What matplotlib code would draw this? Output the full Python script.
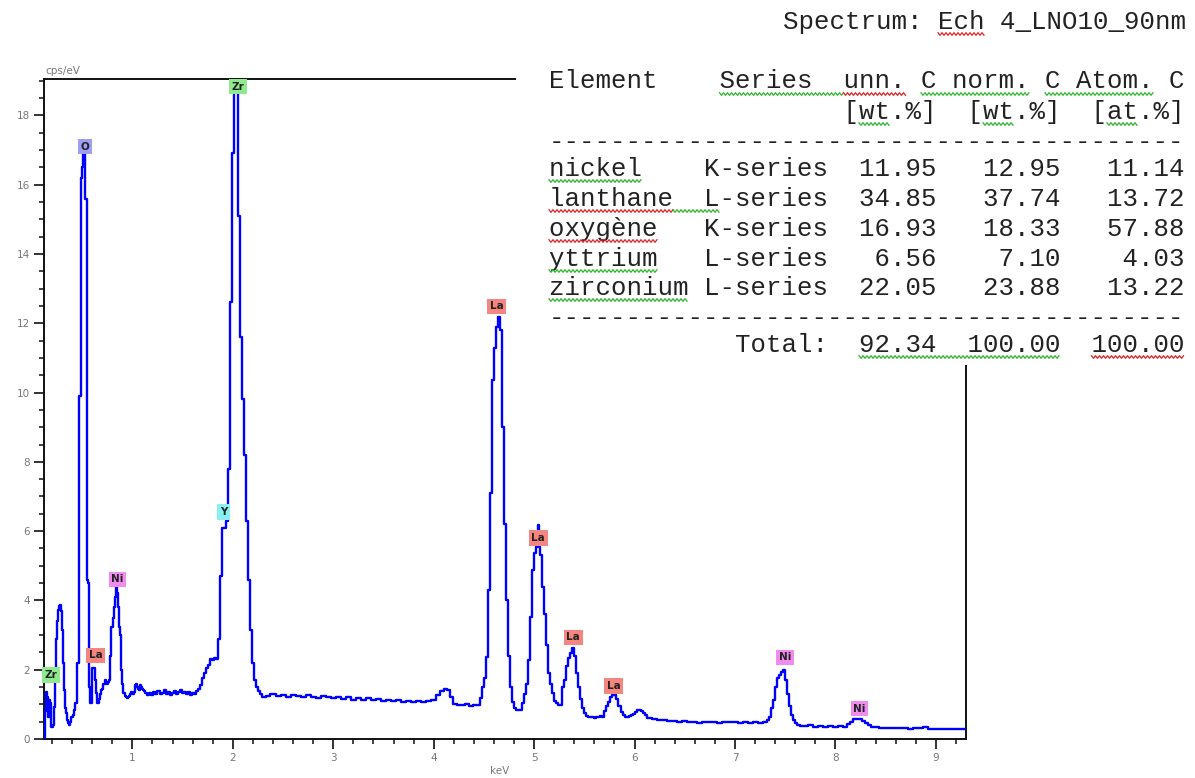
import numpy as np
import matplotlib
matplotlib.use("Agg")
import matplotlib.pyplot as plt
from matplotlib.patches import Rectangle
from matplotlib.lines import Line2D
from matplotlib.ticker import MultipleLocator

# ---------------- spectrum (energy in keV, intensity in cps/eV) ----------------
energy_low = [
    0.125, 0.135, 0.145, 0.155, 0.165, 0.175, 0.185, 0.195, 0.205, 0.215,
    0.225, 0.235, 0.245, 0.255, 0.265, 0.275, 0.285, 0.295, 0.305, 0.315,
    0.325, 0.335, 0.345, 0.355, 0.365, 0.375, 0.385, 0.395, 0.405, 0.415,
    0.425, 0.435, 0.445, 0.455, 0.465, 0.475, 0.485, 0.495, 0.505, 0.515,
    0.525, 0.535, 0.545, 0.555, 0.565, 0.575, 0.585, 0.595, 0.605, 0.615,
    0.625, 0.635, 0.645, 0.655, 0.665, 0.675, 0.685, 0.695, 0.705, 0.715,
    0.725, 0.735, 0.745, 0.755, 0.765, 0.775, 0.785, 0.795, 0.805, 0.815,
    0.825, 0.835, 0.845, 0.855, 0.865, 0.875, 0.885, 0.895, 0.905, 0.915,
    0.925, 0.935, 0.945, 0.955, 0.965, 0.975, 0.985, 0.995, 1.005, 1.015,
    1.025, 1.035, 1.045, 1.055, 1.065, 1.075, 1.085, 1.095, 1.105, 1.115]
counts_low = [
    0.05, 0.80, 1.36, 1.20, 0.64, 1.12, 1.05, 0.36, 0.36, 0.40,
    0.93, 1.90, 2.90, 3.40, 3.72, 3.85, 3.87, 3.70, 3.14, 2.20,
    1.41, 0.90, 0.74, 0.55, 0.45, 0.40, 0.50, 0.64, 0.64, 0.70,
    0.85, 1.03, 1.03, 2.18, 2.20, 9.90, 9.90, 16.2, 16.5, 17.1,
    17.1, 15.6, 15.6, 4.60, 4.50, 1.50, 1.03, 1.03, 2.04, 2.04,
    2.04, 1.70, 1.32, 1.03, 1.03, 1.15, 1.30, 1.41, 1.45, 1.60,
    1.60, 1.70, 1.60, 1.60, 1.65, 1.70, 2.40, 3.24, 3.24, 3.50,
    3.82, 4.10, 4.39, 4.20, 3.82, 3.24, 3.00, 1.99, 1.60, 1.32,
    1.32, 1.25, 1.20, 1.18, 1.20, 1.25, 1.30, 1.35, 1.30, 1.30,
    1.35, 1.55, 1.60, 1.50, 1.45, 1.42, 1.55, 1.50, 1.45, 1.40]

energy_mid = [
    1.12, 1.14, 1.16, 1.18, 1.20, 1.22, 1.24, 1.26, 1.28, 1.30,
    1.32, 1.34, 1.36, 1.38, 1.40, 1.42, 1.44, 1.46, 1.48, 1.50,
    1.52, 1.54, 1.56, 1.58, 1.60, 1.62, 1.64, 1.66, 1.68, 1.70,
    1.72, 1.74, 1.76, 1.78, 1.80, 1.82, 1.84, 1.86, 1.88, 1.90,
    1.92, 1.94, 1.96, 1.98, 2.00, 2.02, 2.04, 2.06, 2.08, 2.10,
    2.12, 2.14, 2.16, 2.18, 2.20, 2.22, 2.24, 2.26, 2.28, 2.30, 2.32]
counts_mid = [
    1.38, 1.32, 1.28, 1.33, 1.27, 1.35, 1.30, 1.38, 1.29, 1.34,
    1.40, 1.30, 1.36, 1.28, 1.33, 1.38, 1.30, 1.35, 1.40, 1.33,
    1.37, 1.30, 1.36, 1.27, 1.34, 1.30, 1.38, 1.45, 1.55, 1.75,
    1.90, 2.05, 2.15, 2.30, 2.27, 2.35, 2.30, 2.90, 4.70, 6.10,
    6.10, 6.30, 7.80, 12.6, 16.9, 18.7, 18.8, 15.1, 11.6, 9.80,
    8.20, 6.30, 4.60, 3.15, 2.20, 1.70, 1.50, 1.38, 1.30, 1.22, 1.20]

energy_bkg = [
    2.35, 2.40, 2.45, 2.50, 2.55, 2.60, 2.65, 2.70, 2.75, 2.80,
    2.85, 2.90, 2.95, 3.00, 3.05, 3.10, 3.15, 3.20, 3.25, 3.30,
    3.35, 3.40, 3.45, 3.50, 3.55, 3.60, 3.65, 3.70, 3.75, 3.80,
    3.85, 3.90, 3.95, 4.00, 4.04, 4.08, 4.12, 4.15, 4.18, 4.21,
    4.25, 4.29, 4.33, 4.37, 4.41, 4.45]
counts_bkg = [
    1.25, 1.30, 1.24, 1.28, 1.22, 1.27, 1.25, 1.20, 1.26, 1.22,
    1.18, 1.24, 1.20, 1.17, 1.22, 1.16, 1.20, 1.14, 1.18, 1.13,
    1.17, 1.12, 1.15, 1.10, 1.14, 1.09, 1.12, 1.08, 1.11, 1.07,
    1.10, 1.06, 1.10, 1.12, 1.27, 1.38, 1.45, 1.42, 1.20, 1.02,
    0.98, 0.97, 1.00, 0.96, 0.98, 0.97]

energy_la = [
    4.47, 4.49, 4.51, 4.53, 4.55, 4.57, 4.59, 4.61, 4.63, 4.65,
    4.67, 4.69, 4.71, 4.73, 4.75, 4.77, 4.79, 4.81, 4.83, 4.85,
    4.87, 4.89, 4.91, 4.93, 4.95, 4.97, 4.99, 5.01, 5.025, 5.035,
    5.045, 5.055, 5.07, 5.09, 5.11, 5.13, 5.15, 5.17, 5.19, 5.21,
    5.23, 5.25, 5.27, 5.29, 5.31, 5.33, 5.35, 5.37, 5.39, 5.41,
    5.43, 5.45, 5.47, 5.49, 5.51, 5.53, 5.55, 5.57, 5.59, 5.61,
    5.63, 5.65, 5.67, 5.69, 5.71, 5.73, 5.75, 5.77, 5.79, 5.81,
    5.83, 5.85, 5.87, 5.89, 5.91, 5.93, 5.95, 5.97, 5.99, 6.01,
    6.03, 6.05, 6.07, 6.09, 6.11, 6.13, 6.15]
counts_la = [
    1.17, 1.50, 1.75, 2.37, 4.30, 7.10, 10.35, 11.3, 11.9, 12.18,
    11.8, 9.00, 6.20, 4.00, 2.40, 1.50, 1.07, 0.90, 0.83, 0.83,
    0.85, 1.03, 1.30, 1.60, 2.28, 3.53, 4.88, 5.36, 5.55, 5.60,
    6.17, 5.55, 5.30, 4.40, 3.60, 2.70, 1.90, 1.60, 1.32, 1.10,
    1.03, 0.98, 0.98, 1.50, 1.70, 2.10, 2.35, 2.47, 2.62, 2.40,
    1.90, 1.50, 1.15, 0.90, 0.75, 0.66, 0.64, 0.63, 0.64, 0.62,
    0.64, 0.63, 0.66, 0.64, 0.80, 0.95, 1.08, 1.20, 1.27, 1.27,
    1.15, 0.95, 0.79, 0.70, 0.64, 0.63, 0.67, 0.70, 0.72, 0.79,
    0.84, 0.84, 0.80, 0.74, 0.68, 0.62, 0.60]

energy_high = [
    6.20, 6.25, 6.30, 6.35, 6.40, 6.45, 6.50, 6.55, 6.60, 6.65,
    6.70, 6.75, 6.80, 6.85, 6.90, 6.95, 7.00, 7.05, 7.10, 7.15,
    7.20, 7.25, 7.30, 7.33, 7.35, 7.37, 7.39, 7.41, 7.43, 7.45,
    7.47, 7.49, 7.51, 7.53, 7.55, 7.57, 7.59, 7.61, 7.63, 7.67,
    7.70, 7.75, 7.80, 7.85, 7.90, 7.95, 8.00, 8.05, 8.10, 8.13,
    8.16, 8.19, 8.22, 8.25, 8.28, 8.31, 8.34, 8.37, 8.41, 8.45,
    8.50, 8.55, 8.60, 8.65, 8.70, 8.75, 8.80, 8.85, 8.90, 8.95,
    9.00, 9.05, 9.10, 9.15, 9.20, 9.25, 9.30]
counts_high = [
    0.57, 0.55, 0.56, 0.53, 0.52, 0.50, 0.51, 0.48, 0.50, 0.47,
    0.50, 0.48, 0.50, 0.47, 0.50, 0.48, 0.49, 0.46, 0.49, 0.47,
    0.49, 0.45, 0.50, 0.55, 0.64, 0.90, 1.12, 1.50, 1.75, 1.85,
    1.94, 2.00, 1.70, 1.30, 0.95, 0.70, 0.55, 0.45, 0.40, 0.38,
    0.37, 0.40, 0.36, 0.38, 0.36, 0.37, 0.35, 0.38, 0.36, 0.42,
    0.48, 0.57, 0.58, 0.57, 0.52, 0.45, 0.40, 0.36, 0.34, 0.32,
    0.33, 0.32, 0.33, 0.31, 0.32, 0.30, 0.32, 0.31, 0.36, 0.30,
    0.30, 0.29, 0.30, 0.28, 0.29, 0.28, 0.28]

# ---------------- element line markers ----------------
marker_text = ["Zr", "O", "La", "Ni", "Y", "Zr", "La", "La", "La", "La", "Ni", "Ni"]
marker_kev = [0.186, 0.527, 0.634, 0.853, 1.91, 2.05, 4.63, 5.04, 5.39, 5.79, 7.50, 8.24]
marker_cps = [1.85, 17.1, 2.42, 4.61, 6.55, 18.83, 12.49, 5.80, 2.94, 1.53, 2.36, 0.87]
marker_colors = {"Zr": "#8fea8f", "O": "#9e9ef2", "La": "#f4857f",
                 "Ni": "#f08cf0", "Y": "#88f0f0"}

# ---------------- quantification table ----------------
spectrum_name = "Ech 4_LNO10_90nm"
elements = ["nickel", "lanthane", "oxygène", "yttrium", "zirconium"]
series = ["K-series", "L-series", "K-series", "L-series", "L-series"]
unn_wt = [11.95, 34.85, 16.93, 6.56, 22.05]
norm_wt = [12.95, 37.74, 18.33, 7.10, 23.88]
atom_pct = [11.14, 13.72, 57.88, 4.03, 13.22]
totals = [92.34, 100.00, 100.00]

W, H = 1195, 778
fig = plt.figure(figsize=(W / 100, H / 100), dpi=100)
fig.patch.set_facecolor("white")

ax_l, ax_r, ax_t, ax_b = 44, 966, 79, 739
ax = fig.add_axes([ax_l / W, 1 - ax_b / H, (ax_r - ax_l) / W, (ax_b - ax_t) / H])

energy = energy_low + energy_mid + energy_bkg + energy_la + energy_high
counts = counts_low + counts_mid + counts_bkg + counts_la + counts_high
ax.plot([0.12] + energy, [0.0] + counts, drawstyle="steps-mid",
        color="#0000ff", lw=1.7, zorder=3)

ax.set_xlim(0.12, 9.3)
ax.set_ylim(0, 19.05)
ax.xaxis.set_minor_locator(MultipleLocator(0.2))
ax.yaxis.set_minor_locator(MultipleLocator(0.5))
ax.set_xticks([1, 2, 3, 4, 5, 6, 7, 8, 9])
ax.set_yticks([0, 2, 4, 6, 8, 10, 12, 14, 16, 18])
ax.tick_params(which="major", direction="out", length=7, width=1.3,
               color="#222222", labelsize=7.5, labelcolor="#777777", pad=3)
ax.tick_params(which="minor", direction="out", length=3.8, width=1.2, color="#222222")
for s in ax.spines.values():
    s.set_linewidth(1.4)
    s.set_color("#111111")

for txt, xk, yc in zip(marker_text, marker_kev, marker_cps):
    ax.text(xk, yc, txt, ha="center", va="center", fontsize=7.5,
            fontweight="bold", color="#222222", zorder=5,
            bbox=dict(boxstyle="square,pad=0.25", fc=marker_colors[txt], ec="none"))

fig.text(45 / W, 1 - 71 / H, "cps/eV", fontsize=7.5, color="#777777",
         ha="left", va="center")
fig.text(500 / W, 1 - 771 / H, "keV", fontsize=7.5, color="#777777",
         ha="center", va="center")

# white panel holding the results table
fig.add_artist(Rectangle((516 / W, 1 - 365 / H), (W - 516) / W, (365 - 50) / H,
                         transform=fig.transFigure, fc="white", ec="none", zorder=5))

mono = "Liberation Mono"
fs = 18.55
col0 = 549
cw = 15.5

def put_line(text, baseline_py):
    fig.text(col0 / W, 1 - baseline_py / H, text, family=mono, fontsize=fs,
             ha="left", va="baseline", color="#222222", zorder=6)

fig.text(1186 / W, 1 - 29 / H, "Spectrum: " + spectrum_name, family=mono,
         fontsize=fs, ha="right", va="baseline", color="#222222", zorder=6)

header = "Element".ljust(11) + "Series" + "unn. C".rjust(8) + " norm. C" + " Atom. C"
units = " " * 19 + "[wt.%]" + "  [wt.%]" + "  [at.%]"
rule = "-" * 41
put_line(header, 88)
put_line(units, 119)
put_line(rule, 149)
row_base = [176, 206, 236, 266, 295]
for el, se, u, n, a, py in zip(elements, series, unn_wt, norm_wt, atom_pct, row_base):
    put_line(f"{el:<10}{se:<8}{u:7.2f}{n:8.2f}{a:8.2f}", py)
put_line(rule, 325)
put_line(" " * 12 + "Total:" + f"{totals[0]:7.2f}{totals[1]:8.2f}{totals[2]:8.2f}", 352)

# spell-checker squiggles under some words
def squiggle(c_start, c_end, py, color, x_origin=col0):
    x0 = x_origin + c_start * cw
    x1 = x_origin + (c_end + 1) * cw
    xs = np.arange(x0, x1 + 0.1, 2.0)
    ys = py + np.where(np.arange(len(xs)) % 2 == 0, -1.3, 1.3)
    fig.add_artist(Line2D(xs / W, 1 - ys / H, transform=fig.transFigure,
                          color=color, lw=0.9, zorder=7))

green, red = "#2bb52b", "#e02020"
squiggle(10, 12, 34, red, x_origin=1186 - 26 * cw)
squiggle(11, 18, 94, green)
squiggle(19, 22, 94, red)
squiggle(24, 30, 94, green)
squiggle(32, 38, 94, green)
squiggle(20, 21, 124, green)
squiggle(28, 29, 124, green)
squiggle(36, 37, 124, green)
squiggle(0, 5, 181, green)
squiggle(0, 7, 211, red)
squiggle(8, 10, 211, green)
squiggle(0, 6, 241, red)
squiggle(0, 6, 271, green)
squiggle(0, 8, 300, green)
squiggle(20, 32, 357, green)
squiggle(35, 40, 357, red)

fig.savefig("out.png", dpi=100, facecolor="white")
